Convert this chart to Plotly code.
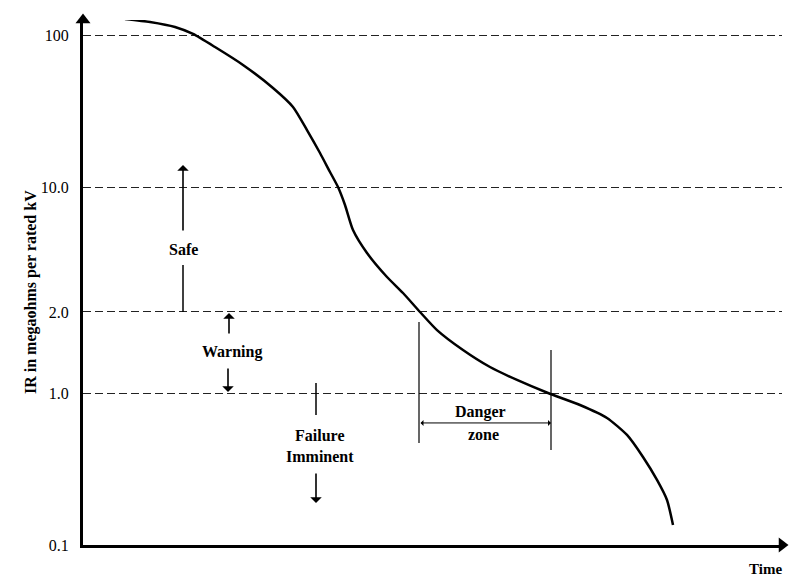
import plotly.graph_objects as go

# ---- data (levels are the schematic positions of the IR tick marks) ----
tick_labels = ["0.1", "1.0", "2.0", "10.0", "100"]
tick_levels = [0.0, 1.0, 1.533, 2.355, 3.355]

time = [42, 67, 92, 110, 132, 160, 190, 210, 224, 237, 247, 255, 262, 270, 284,
        304, 320, 337, 354, 380, 407, 434, 465, 497, 524, 544, 560, 574, 584, 590]
ir_level = [3.461, 3.441, 3.408, 3.362, 3.276, 3.158, 3.007, 2.882, 2.730, 2.579,
            2.454, 2.355, 2.237, 2.072, 1.921, 1.763, 1.658, 1.533, 1.414, 1.283,
            1.171, 1.086, 1.000, 0.921, 0.836, 0.724, 0.579, 0.428, 0.296, 0.132]

X_MAX = 699
Y_MAX = 3.454
FONT = "Liberation Serif"

fig = go.Figure()
fig.add_trace(go.Scatter(x=time, y=ir_level, mode="lines",
                         line=dict(color="black", width=2.5, shape="spline", smoothing=0.6),
                         hoverinfo="skip", showlegend=False))

# axis arrowheads
fig.add_trace(go.Scatter(x=[0, X_MAX], y=[Y_MAX, 0], mode="markers",
                         marker=dict(symbol=["triangle-up", "triangle-right"], size=13, color="black"),
                         cliponaxis=False, hoverinfo="skip", showlegend=False))

shapes = []
def seg(x0, y0, x1, y1, w=1.2, dash="solid"):
    shapes.append(dict(type="line", xref="x", yref="y", x0=x0, y0=y0, x1=x1, y1=y1,
                       line=dict(color="black", width=w, dash=dash)))

# Safe
seg(100, tick_levels[2], 100, 1.842, w=1.5)
# Failure tick
seg(233, 1.066, 233, 0.855, w=1.5)
# Danger zone bounds
seg(336, 1.467, 336, 0.671, w=1.2)
seg(468, 1.283, 468, 0.625, w=1.2)

annotations = []
def arrow(x, y_tail, y_tip):
    annotations.append(dict(x=x, y=y_tip, ax=x, ay=y_tail, xref="x", yref="y",
                            axref="x", ayref="y", text="", showarrow=True,
                            arrowhead=1, arrowsize=1.2, arrowwidth=1.6, arrowcolor="black"))

def label(x, y, text, size=16):
    annotations.append(dict(x=x, y=y, xref="x", yref="y", text=text, showarrow=False,
                            font=dict(family=FONT, size=size, color="black")))

arrow(100, 2.059, 2.50)
label(100, 1.941, "<b>Safe</b>")
arrow(146, 1.382, 1.526)
label(149, 1.270, "<b>Warning</b>")
arrow(145, 1.171, 1.007)
label(237, 0.651, "<b>Failure<br>Imminent</b>")
arrow(233, 0.480, 0.276)
label(397, 0.875, "<b>Danger</b>")
label(400, 0.724, "<b>zone</b>")
annotations.append(dict(x=468, y=0.803, ax=336, ay=0.803, xref="x", yref="y",
                        axref="x", ayref="y", text="", showarrow=True,
                        arrowhead=1, startarrowhead=1, arrowside="end+start",
                        arrowsize=1, startarrowsize=1, arrowwidth=1, arrowcolor="black"))

annotations.append(dict(x=(747 - 83) / X_MAX, y=-(569 - 545) / 525, xref="paper", yref="paper",
                        text="<b>Time</b>", xanchor="left", yanchor="middle", showarrow=False,
                        font=dict(family=FONT, size=15, color="black")))
annotations.append(dict(x=-63 / X_MAX, y=(545 - 292) / 525, xref="paper", yref="paper",
                        text="<b>IR in megaohms per rated kV</b>", textangle=-90,
                        showarrow=False, font=dict(family=FONT, size=16, color="black")))

fig.update_layout(
    width=789, height=577,
    margin=dict(l=83, r=7, t=20, b=32),
    plot_bgcolor="white", paper_bgcolor="white",
    shapes=shapes, annotations=annotations,
    xaxis=dict(range=[0, X_MAX], showgrid=False, zeroline=False, showticklabels=False,
               showline=True, linecolor="black", linewidth=3, ticks=""),
    yaxis=dict(range=[0, Y_MAX], tickvals=tick_levels, ticktext=tick_labels,
               showgrid=True, gridcolor="#222", gridwidth=1, griddash="8px,4px",
               zeroline=False, showline=True, linecolor="black", linewidth=3,
               ticks="outside", ticklen=8, tickcolor="rgba(0,0,0,0)",
               tickfont=dict(family=FONT, size=16, color="black")),
    font=dict(family=FONT),
)
fig.write_html("out.html", config={"displayModeBar": False},
               post_script="document.body.style.margin='0';document.body.style.overflow='hidden';")
